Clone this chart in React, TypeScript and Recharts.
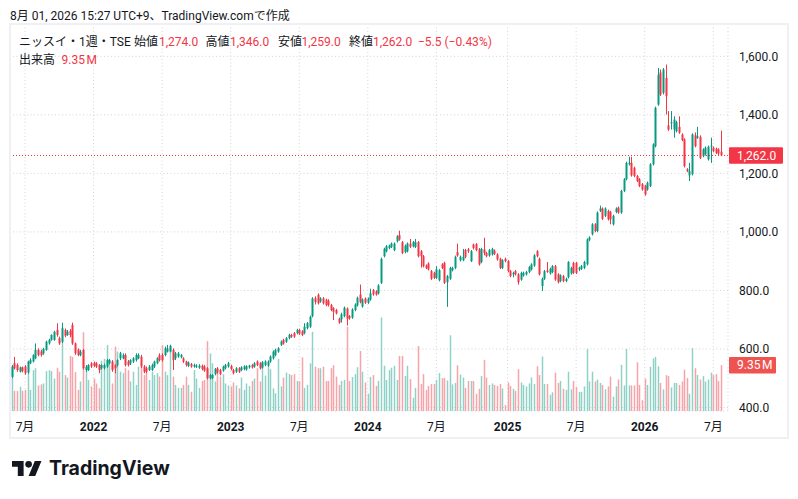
import { ComposedChart, Bar, XAxis, YAxis, CartesianGrid, ReferenceLine } from 'recharts'

type OHLC = [number, number, number, number]

// weekly candles, open / high / low / close (yen)
const ohlc2021: OHLC[] = [
  [505, 545, 500, 540], [551, 573, 530, 534], [545, 551, 522, 528], [522, 540, 520, 537], [537, 540, 520, 525],
  [540, 545, 512, 517], [520, 560, 515, 557], [551, 568, 548, 562], [557, 582, 554, 579], [568, 619, 565, 597],
  [597, 602, 575, 579], [591, 597, 574, 579], [585, 604, 580, 600], [597, 628, 594, 625], [619, 635, 615, 631],
  [631, 650, 628, 648], [631, 662, 628, 659], [665, 688, 642, 648], [637, 642, 614, 619], [625, 690, 620, 671],
  [665, 670, 640, 645], [648, 665, 645, 659], [662, 668, 640, 648], [682, 690, 614, 619], [619, 622, 580, 585],
  [598, 602, 575, 579], [579, 597, 575, 591], [597, 600, 530, 534], [528, 545, 522, 540], [528, 548, 525, 545],
  [551, 555, 535, 540],
]
const ohlc2022: OHLC[] = [
  [553, 557, 538, 542], [551, 555, 535, 540], [545, 548, 517, 528], [534, 548, 530, 545], [534, 550, 530, 545],
  [540, 566, 535, 562], [551, 566, 548, 562], [557, 562, 522, 528], [545, 548, 517, 534], [545, 565, 540, 562],
  [568, 590, 562, 585], [568, 585, 565, 579], [579, 585, 540, 545], [557, 562, 540, 545], [551, 565, 545, 562],
  [557, 572, 552, 568], [562, 585, 557, 579], [568, 585, 565, 579], [574, 580, 535, 540], [540, 545, 517, 522],
  [534, 540, 517, 522], [528, 545, 525, 540], [528, 550, 525, 545], [540, 560, 535, 557], [551, 572, 548, 568],
  [579, 585, 557, 562], [579, 585, 557, 562], [579, 608, 575, 602], [591, 614, 588, 602], [591, 614, 588, 610],
  [597, 602, 528, 562], [568, 590, 562, 585], [574, 590, 570, 585], [572, 583, 568, 579], [568, 572, 552, 557],
  [557, 560, 540, 545], [542, 557, 538, 554], [548, 552, 536, 540], [540, 550, 536, 545], [540, 548, 535, 543],
  [536, 548, 532, 543], [543, 547, 527, 531], [540, 545, 522, 526], [534, 538, 496, 500], [500, 515, 496, 511],
  [500, 514, 497, 511], [514, 535, 510, 531], [534, 538, 516, 520], [528, 532, 510, 514], [526, 543, 522, 540],
  [534, 549, 530, 545], [540, 556, 536, 551],
]
const ohlc2023: OHLC[] = [
  [542, 546, 527, 531], [528, 532, 513, 517], [522, 538, 518, 534], [534, 538, 518, 522], [528, 541, 524, 537],
  [531, 544, 527, 540], [530, 544, 526, 541], [537, 546, 533, 543], [545, 549, 533, 537], [540, 555, 536, 551],
  [557, 561, 541, 545], [551, 555, 530, 534], [537, 558, 533, 554], [545, 561, 541, 557], [543, 561, 539, 557],
  [557, 578, 553, 574], [568, 595, 564, 591], [579, 601, 575, 597], [591, 606, 587, 602], [614, 629, 610, 625],
  [631, 635, 615, 619], [625, 641, 621, 637], [637, 652, 633, 648], [648, 652, 638, 642], [654, 658, 638, 642],
  [654, 669, 650, 665], [665, 669, 648, 652], [660, 664, 644, 648], [654, 688, 650, 676], [671, 692, 667, 688],
  [676, 714, 672, 710], [712, 777, 708, 773], [773, 780, 752, 760], [785, 790, 752, 756], [762, 777, 758, 773],
  [773, 777, 752, 756], [768, 772, 746, 750], [765, 770, 745, 750], [750, 754, 729, 733], [739, 743, 699, 727],
  [733, 737, 718, 722], [703, 707, 686, 690], [701, 724, 690, 718], [712, 745, 708, 741], [738, 742, 680, 703],
  [712, 716, 700, 705], [707, 739, 703, 735], [733, 756, 729, 752], [749, 779, 745, 775], [786, 820, 756, 760],
  [745, 773, 741, 769], [772, 776, 754, 758],
]
const ohlc2024: OHLC[] = [
  [758, 776, 754, 772], [769, 806, 765, 790], [801, 805, 782, 786], [797, 801, 782, 786], [790, 821, 786, 817],
  [826, 912, 822, 908], [917, 946, 913, 942], [934, 955, 930, 951], [945, 957, 941, 953], [949, 964, 945, 960],
  [938, 964, 934, 960], [968, 989, 964, 985], [989, 1004, 970, 974], [965, 969, 924, 928], [931, 957, 927, 953],
  [934, 964, 930, 960], [960, 976, 945, 949], [951, 969, 947, 965], [949, 976, 945, 965], [965, 969, 913, 917],
  [934, 938, 878, 917], [917, 921, 879, 883], [885, 889, 873, 877], [892, 896, 868, 872], [866, 870, 836, 840],
  [860, 864, 839, 843], [843, 883, 839, 872], [835, 873, 831, 869], [889, 893, 873, 877], [894, 898, 822, 826],
  [828, 853, 744, 849], [840, 881, 836, 877], [869, 881, 865, 877], [877, 919, 873, 915], [931, 960, 915, 919],
  [903, 919, 899, 915], [903, 942, 900, 915], [938, 942, 910, 915], [940, 945, 928, 934], [900, 938, 897, 934],
  [957, 960, 940, 945], [958, 962, 934, 938], [940, 945, 885, 889], [897, 946, 893, 942], [940, 980, 920, 928],
  [928, 932, 913, 917], [919, 942, 915, 938], [923, 946, 919, 942], [936, 940, 921, 925], [923, 927, 902, 906],
  [908, 912, 873, 877], [877, 907, 873, 903], [908, 912, 896, 900],
]
const ohlc2025: OHLC[] = [
  [900, 904, 862, 866], [866, 870, 845, 849], [855, 864, 845, 860], [866, 870, 851, 855], [855, 859, 820, 828],
  [837, 864, 833, 860], [851, 864, 847, 860], [855, 867, 851, 863], [863, 884, 859, 880], [872, 893, 868, 889],
  [885, 924, 881, 920], [934, 938, 913, 917], [908, 912, 851, 855], [815, 844, 798, 840], [840, 870, 836, 866],
  [868, 897, 860, 863], [858, 878, 854, 874], [863, 887, 859, 883], [883, 887, 833, 837], [855, 859, 824, 828],
  [832, 855, 828, 851], [849, 853, 828, 832], [832, 844, 828, 840], [845, 900, 841, 897], [858, 881, 854, 877],
  [894, 898, 856, 860], [894, 898, 856, 860], [872, 881, 866, 877], [874, 887, 870, 883], [877, 901, 873, 897],
  [889, 978, 885, 974], [973, 985, 968, 981], [992, 1030, 988, 1026], [1026, 1030, 999, 1003], [1003, 1070, 999, 1066],
  [1072, 1090, 1068, 1080], [1080, 1084, 1041, 1045], [1055, 1084, 1051, 1080], [1072, 1076, 1039, 1043], [1068, 1072, 1026, 1043],
  [1026, 1059, 1022, 1055], [1068, 1084, 1064, 1080], [1083, 1087, 1062, 1066], [1066, 1144, 1062, 1140], [1140, 1184, 1136, 1180],
  [1180, 1240, 1176, 1236], [1231, 1257, 1227, 1236], [1236, 1257, 1189, 1193], [1219, 1223, 1187, 1191], [1191, 1195, 1170, 1174],
  [1180, 1184, 1153, 1157], [1163, 1167, 1141, 1145],
]
const ohlc2026: OHLC[] = [
  [1157, 1161, 1124, 1128], [1145, 1172, 1141, 1168], [1157, 1235, 1153, 1231], [1231, 1303, 1227, 1299], [1293, 1428, 1289, 1424],
  [1435, 1560, 1431, 1537], [1545, 1555, 1465, 1469], [1475, 1560, 1470, 1555], [1526, 1572, 1401, 1464], [1364, 1413, 1345, 1350],
  [1373, 1413, 1350, 1375], [1350, 1395, 1322, 1384], [1344, 1380, 1340, 1375], [1359, 1395, 1335, 1339], [1333, 1337, 1310, 1314],
  [1316, 1320, 1220, 1225], [1214, 1218, 1204, 1208], [1193, 1236, 1174, 1208], [1197, 1337, 1193, 1333], [1330, 1340, 1289, 1293],
  [1322, 1359, 1318, 1327], [1325, 1330, 1249, 1253], [1259, 1286, 1255, 1282], [1265, 1292, 1261, 1288], [1248, 1295, 1244, 1291],
  [1293, 1322, 1236, 1295], [1288, 1292, 1272, 1276], [1284, 1288, 1266, 1270], [1282, 1286, 1262, 1267.5], [1274, 1346, 1259, 1262],
]

// weekly volume, millions of shares
const vol2021 = [
  9.0, 4.1, 4.1, 4.9, 4.1, 4.3, 8.0, 4.3, 8.3, 8.7, 5.2, 5.4, 5.6, 8.1, 8.3, 8.1, 6.6, 8.8, 8.0, 14.5,
  7.3, 6.8, 11.2, 11.0, 7.9, 4.3, 6.0, 16.0, 8.7, 6.3, 5.0,
]
const vol2022 = [
  6.6, 5.6, 4.6, 10.2, 10.6, 13.4, 10.4, 5.6, 13.1, 12.1, 8.0, 7.7, 8.7, 8.3, 6.0, 8.0, 5.3, 9.0, 9.0, 7.3,
  7.7, 6.3, 8.0, 7.3, 7.7, 7.0, 13.4, 8.0, 7.3, 13.5, 7.0, 5.3, 4.7, 4.7, 5.3, 7.0, 5.3, 3.9, 8.3, 6.6,
  4.7, 6.1, 6.3, 14.2, 11.7, 9.7, 6.0, 7.9, 7.0, 7.5, 5.6, 5.2,
]
const vol2023 = [
  5.0, 5.8, 5.2, 4.6, 6.8, 4.3, 5.6, 5.1, 6.1, 6.6, 8.7, 6.0, 10.2, 7.2, 9.0, 8.5, 4.6, 3.6, 10.6, 5.0,
  6.8, 7.8, 7.5, 7.3, 7.5, 6.1, 6.0, 10.9, 4.7, 5.3, 9.7, 16.1, 9.0, 8.7, 8.7, 9.0, 6.1, 6.1, 8.7, 9.3,
  7.0, 5.3, 6.1, 6.3, 17.1, 6.1, 6.9, 7.5, 8.9, 12.2, 8.0, 5.8,
]
const vol2024 = [
  3.5, 6.9, 7.3, 5.1, 6.1, 19.0, 9.2, 6.3, 8.3, 8.8, 9.2, 6.3, 11.2, 11.2, 7.1, 9.2, 6.5, 2.7, 4.7, 13.2,
  5.5, 7.5, 4.3, 5.1, 5.5, 5.5, 6.3, 7.7, 6.7, 6.7, 6.2, 15.4, 5.4, 5.7, 9.3, 7.4, 6.8, 4.7, 6.1, 6.1,
  6.1, 3.5, 4.5, 7.1, 10.4, 6.8, 5.3, 5.6, 5.3, 5.1, 5.5, 4.6, 1.2,
]
const vol2025 = [
  5.8, 5.1, 4.5, 4.1, 8.5, 5.8, 5.3, 5.0, 5.6, 6.8, 5.5, 9.1, 7.3, 11.1, 5.5, 5.5, 3.3, 3.8, 7.8, 5.7,
  6.1, 4.5, 4.3, 8.0, 4.4, 6.1, 4.9, 3.9, 3.9, 5.0, 12.6, 6.0, 8.0, 6.0, 6.4, 5.7, 5.3, 4.4, 5.0, 7.0,
  2.9, 5.0, 6.4, 9.4, 5.2, 12.6, 5.2, 5.2, 5.2, 9.9, 5.3, 2.2,
]
const vol2026 = [
  6.6, 5.3, 9.0, 10.7, 11.0, 9.1, 5.7, 4.4, 7.3, 7.1, 4.8, 5.7, 5.7, 5.3, 6.0, 8.4, 6.7, 3.5, 12.8, 8.7,
  7.3, 6.4, 7.1, 6.0, 6.4, 7.8, 7.3, 7.5, 6.1, 9.35,
]

const priceTicks = [400, 600, 800, 1000, 1200, 1400, 1600]
const tickWeeks = [
  '2021-07-05', '2022-01-03', '2022-07-04', '2023-01-02', '2023-07-03', '2024-01-01',
  '2024-07-01', '2025-01-06', '2025-07-07', '2026-01-05', '2026-07-06',
]
const tickLabels = ['7月', '2022', '7月', '2023', '7月', '2024', '7月', '2025', '7月', '2026', '7月']

const UP = '#089981'
const DOWN = '#f23645'
const UP_VOL = '#8fd1c6'
const DOWN_VOL = '#f7a3a9'
const TEXT = '#131722'
const FONT = "Roboto, 'Noto Sans CJK JP', sans-serif"

const START = Date.UTC(2021, 4, 31)
const weekOf = (i: number) => new Date(START + i * 7 * 86400000).toISOString().slice(0, 10)

const allOhlc = [...ohlc2021, ...ohlc2022, ...ohlc2023, ...ohlc2024, ...ohlc2025, ...ohlc2026]
const allVol = [...vol2021, ...vol2022, ...vol2023, ...vol2024, ...vol2025, ...vol2026]

const data = allOhlc.map(([o, h, l, c], i) => ({ d: weekOf(i), o, h, l, c, range: [l, h], v: allVol[i] }))

const last = data[data.length - 1]
const prevClose = data[data.length - 2].c
const change = last.c - prevClose

const fmt = (v: number) => v.toLocaleString('en-US', { minimumFractionDigits: 1, maximumFractionDigits: 1 })
const fmtSigned = (v: number, digits = 1) => (v < 0 ? '\u2212' : '+') + Math.abs(v).toFixed(digits)
const volText = `${last.v.toFixed(2)}\u202FM`

function Candle(props: any) {
  const { x, y, width, height, payload } = props
  if (!payload) return null
  const { o, h, l, c } = payload
  const top = Math.min(y, y + height)
  const span = Math.abs(height)
  const k = h > l ? span / (h - l) : 0
  const cx = Math.round(x + width / 2)
  const yo = top + (h - o) * k
  const yc = top + (h - c) * k
  const col = c >= o ? UP : DOWN
  return (
    <g>
      <rect x={cx} y={top} width={1} height={Math.max(span, 1)} fill={col} />
      <rect x={cx - 0.5} y={Math.min(yo, yc)} width={2} height={Math.max(Math.abs(yo - yc), 1)} fill={col} />
    </g>
  )
}

function VolumeBar(props: any) {
  const { x, y, width, height, payload } = props
  if (!payload || !height) return null
  const cx = Math.round(x + width / 2)
  return <rect x={cx - 0.25} y={y} width={1.5} height={height} fill={payload.c >= payload.o ? UP_VOL : DOWN_VOL} />
}

function DateTick({ x, y, payload }: any) {
  const label = tickLabels[tickWeeks.indexOf(payload.value)]
  return (
    <text x={x} y={y} dy={18} textAnchor="middle" fontSize={12} fontFamily={FONT} fontWeight={label === '7月' ? 400 : 700} fill={TEXT}>
      {label}
    </text>
  )
}

function PriceTick({ x, y, payload }: any) {
  return (
    <text x={x + 9} y={y} dy={4.2} fontSize={12} fontFamily={FONT} fill={TEXT}>
      {fmt(payload.value)}
    </text>
  )
}

// dotted last-price line, snapped to a whole pixel
function PriceLine(props: any) {
  const { x1, x2, y1 } = props
  const y = Math.round(y1) + 0.5
  return <line x1={x1} x2={x2} y1={y} y2={y} stroke={DOWN} strokeWidth={1} strokeDasharray="1 2" />
}

function Tag({ viewBox, text, color, w }: any) {
  const right = viewBox.x + viewBox.width
  return (
    <g>
      <rect x={right + 1} y={viewBox.y - 8} width={w} height={16.5} fill={color} rx={1} />
      <text x={right + 9} y={viewBox.y} dy={4.3} fontSize={12} fontFamily={FONT} fill="#ffffff">
        {text}
      </text>
    </g>
  )
}

function Header() {
  const red = { fill: DOWN }
  return (
    <svg width={798} height={499} style={{ position: 'absolute', left: 0, top: 0, pointerEvents: 'none' }}>
      <rect x={10} y={24} width={778} height={414} fill="none" stroke="#eef0f3" strokeWidth={2} />
      <g fontFamily={FONT} fontSize={12} fill={TEXT}>
        <text x={10} y={19.5}>8月 01, 2026 15:27 UTC+9、TradingView.comで作成</text>
        <text x={19} y={45.5}>ニッスイ・1週・TSE</text>
        <text x={134} y={45.5}>始値</text>
        <text x={159} y={45.5} style={red}>{fmt(last.o)}</text>
        <text x={205.5} y={45.5}>高値</text>
        <text x={230} y={45.5} style={red}>{fmt(last.h)}</text>
        <text x={278} y={45.5}>安値</text>
        <text x={301.5} y={45.5} style={red}>{fmt(last.l)}</text>
        <text x={349} y={45.5}>終値</text>
        <text x={373} y={45.5} style={red}>{fmt(last.c)}</text>
        <text x={418} y={45.5} style={red}>
          {fmtSigned(change)} ({fmtSigned((change / prevClose) * 100, 2)}%)
        </text>
        <text x={19} y={63.5}>出来高</text>
        <text x={61.5} y={63.5} style={red}>{volText}</text>
      </g>
      <g transform="translate(12,457.7) scale(0.83)" fill={TEXT}>
        <path d="M14 22H7V11H0V4h14v18zM28 22h-8l7.5-18h8L28 22z" />
        <circle cx={20} cy={8} r={4} />
      </g>
      <text x={49} y={475} fontFamily="Inter, sans-serif" fontWeight={700} fontSize={19.5} fill={TEXT}>
        TradingView
      </text>
    </svg>
  )
}

export default function App() {
  const pad = { left: 1, right: 5.5 }
  return (
    <div style={{ position: 'absolute', left: 0, top: 0, width: 798, height: 499, background: '#ffffff' }}>
      <ComposedChart width={798} height={499} data={data} margin={{ top: 24, right: 10, bottom: 68, left: 9.5 }}>
        <CartesianGrid xAxisId="p" yAxisId="price" stroke="#d1d4dc" strokeDasharray="1 2.5" />
        <XAxis
          xAxisId="p"
          dataKey="d"
          ticks={tickWeeks}
          interval={0}
          tick={<DateTick />}
          axisLine={false}
          tickLine={false}
          tickSize={0}
          height={20}
          padding={pad}
        />
        <XAxis xAxisId="v" dataKey="d" hide padding={pad} />
        <YAxis
          yAxisId="price"
          orientation="right"
          domain={[388, 1710.5]}
          ticks={priceTicks}
          allowDataOverflow
          axisLine={false}
          tickLine={false}
          tickSize={0}
          width={60}
          tick={<PriceTick />}
        />
        <YAxis yAxisId="vol" hide domain={[0, 78.7]} allowDataOverflow />
        <Bar xAxisId="v" yAxisId="vol" dataKey="v" shape={<VolumeBar />} isAnimationActive={false} />
        <Bar xAxisId="p" yAxisId="price" dataKey="range" shape={<Candle />} isAnimationActive={false} />
        <ReferenceLine
          xAxisId="p"
          yAxisId="price"
          y={last.c}
          shape={(p: any) => <PriceLine {...p} />}
          label={(p: any) => <Tag viewBox={p.viewBox} text={fmt(last.c)} color={DOWN} w={54} />}
        />
        <ReferenceLine
          xAxisId="v"
          yAxisId="vol"
          y={last.v}
          stroke="none"
          strokeOpacity={0}
          label={(p: any) => <Tag viewBox={p.viewBox} text={volText} color="#ef5350" w={47} />}
        />
      </ComposedChart>
      <Header />
    </div>
  )
}
